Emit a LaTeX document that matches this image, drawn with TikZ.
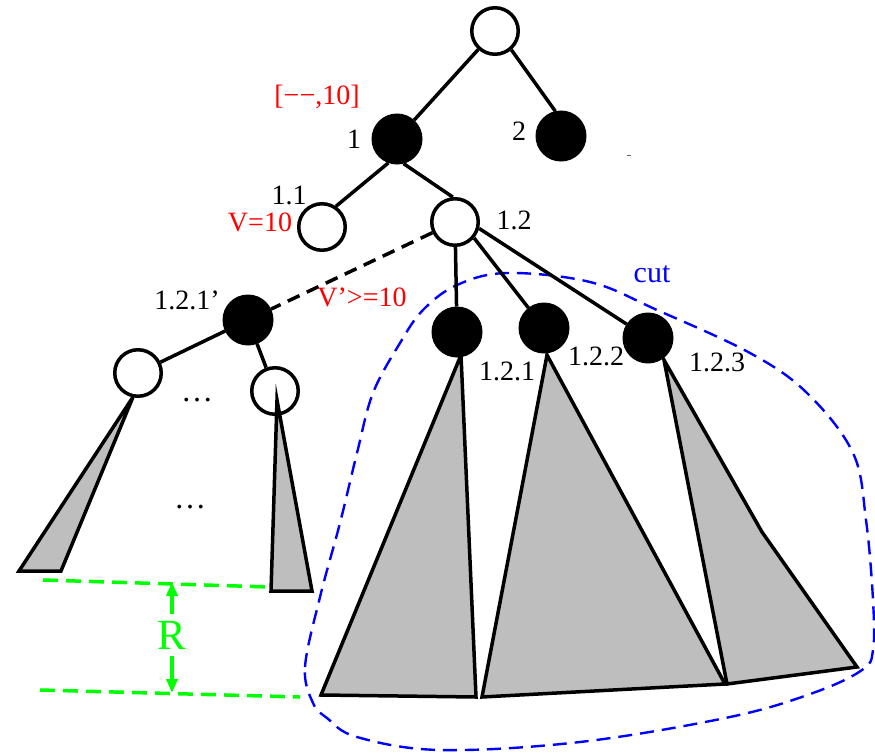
\documentclass[tikz,border=0pt]{standalone}
\usepackage{fontspec}
\setmainfont{Liberation Serif}
\usetikzlibrary{arrows.meta}
\definecolor{grayfill}{RGB}{190,190,190}
\definecolor{pureblue}{RGB}{0,0,255}
\definecolor{puregreen}{RGB}{0,255,0}
\definecolor{purered}{RGB}{255,0,0}
\begin{document}
\begin{tikzpicture}[x=1pt,y=-1pt,
  wnode/.style={circle,draw=black,fill=white,line width=3.5pt,minimum size=46.5pt,inner sep=0pt},
  bnode/.style={circle,draw=black,fill=black,line width=1pt,minimum size=50pt,inner sep=0pt},
  edge/.style={line width=3.5pt},
  subtree/.style={draw=black,fill=grayfill,line width=3.5pt},
  lbl/.style={font=\fontsize{28}{30}\selectfont,inner sep=0pt},
  rlbl/.style={lbl,text=purered},
  cutline/.style={draw=pureblue,line width=2.4pt,dash pattern=on 14pt off 8pt},
  rline/.style={draw=puregreen,line width=3.5pt,dash pattern=on 15pt off 8pt},
  rarrow/.style={draw=puregreen,line width=3.5pt,-{Triangle[length=14pt,width=11pt]}},
]
\useasboundingbox (0,0) rectangle (875,752);

% subtrees
\draw[subtree] (133,397) -- (19,571) -- (61,571) -- cycle;
\draw[subtree] (461,355) -- (321,695) -- (476,697) -- cycle;
\draw[subtree] (547,355) -- (482,697) -- (725,684) -- cycle;
\draw[subtree] (664,360) -- (762,532) -- (857,667) -- (727,684) -- cycle;

% cut
\draw[cutline] plot[smooth cycle, tension=0.6] coordinates {
 (313,703) (305,667) (320,597) (340,523) (357,453) (373,393) (400,343)
 (423,310) (457,285) (507,273) (590,282) (657,310) (750,353) (807,393)
 (853,453) (866,520) (873,600) (873,650) (862,670) (813,693) (730,717)
 (580,742) (440,750) (357,737) (327,718)};

% nodes
\node[wnode] (root) at (495,31) {};
\node[bnode] (n1) at (397,139) {};
\node[bnode] (n2) at (561,136) {};
\node[wnode] (n11) at (322,227) {};
\node[wnode] (n12) at (455,222) {};
\node[bnode] (n121p) at (248,320) {};
\node[wnode] (wl) at (138,373) {};
\node[wnode] (wr) at (275,391) {};
\node[bnode] (nA) at (457,332) {};
\node[bnode] (nB) at (544,328) {};
\node[bnode] (nC) at (648,338) {};

\draw[subtree] (277,400) -- (271,591) -- (312,591) -- cycle;

% edges
\draw[edge] (root) -- (n1);
\draw[edge] (root.-49) -- (n2.103);
\draw[edge] (n1.-110) -- (n11.56);
\draw[edge] (n1.-75) -- (n12.95);
\draw[edge] (n12) -- (nA);
\draw[edge] (n12.-40) -- (nB);
\draw[edge] (n12.-15) -- (nC);
\draw[edge,dash pattern=on 13pt off 8pt] (n12) -- (n121p);
\draw[edge] (n121p) -- (wl);
\draw[edge] (n121p) -- (wr);

% labels
\node[rlbl] (lbint) at (317,97) {[−−,10]};
\node[lbl] (lb1) at (354,139) {1};
\node[lbl] (lb2) at (519,131) {2};
\node[lbl] (lb11) at (289,195) {1.1};
\node[rlbl] (lbV) at (260,222) {V=10};
\node[lbl] (lb12) at (514,220) {1.2};
\node[lbl] (lb121p) at (187,300) {1.2.1’};
\node[rlbl] (lbVp) at (362,297) {V’>=10};
\node[lbl] (lb121) at (507,371) {1.2.1};
\node[lbl] (lb122) at (596,356) {1.2.2};
\node[lbl] (lb123) at (717,362) {1.2.3};
\node[font=\fontsize{30}{32}\selectfont,text=pureblue,inner sep=0pt] (lbcut) at (652,274) {cut};
\node[font=\fontsize{32}{34}\selectfont,inner sep=0pt] (dots1) at (197,400) {…};
\node[font=\fontsize{32}{34}\selectfont,inner sep=0pt] (dots2) at (190,507) {…};

% tiny mark
\draw[line width=1pt,black!60] (627,155) -- (631,155);

% R measure
\coordinate (gu1) at (43,580);
\coordinate (gu2) at (270,587);
\coordinate (gl1) at (40,690);
\coordinate (gl2) at (300,697);
\draw[rline] (gu1) -- (gu2);
\draw[rline] (gl1) -- (gl2);
\node[font=\fontsize{43}{45}\selectfont,text=puregreen,inner sep=7pt] (R) at (172,635) {R};
\coordinate (rt) at (172,582);
\coordinate (rb) at (172,693);
\draw[rarrow] (R) -- (rt);
\draw[rarrow] (R) -- (rb);
\end{tikzpicture}
\end{document}
